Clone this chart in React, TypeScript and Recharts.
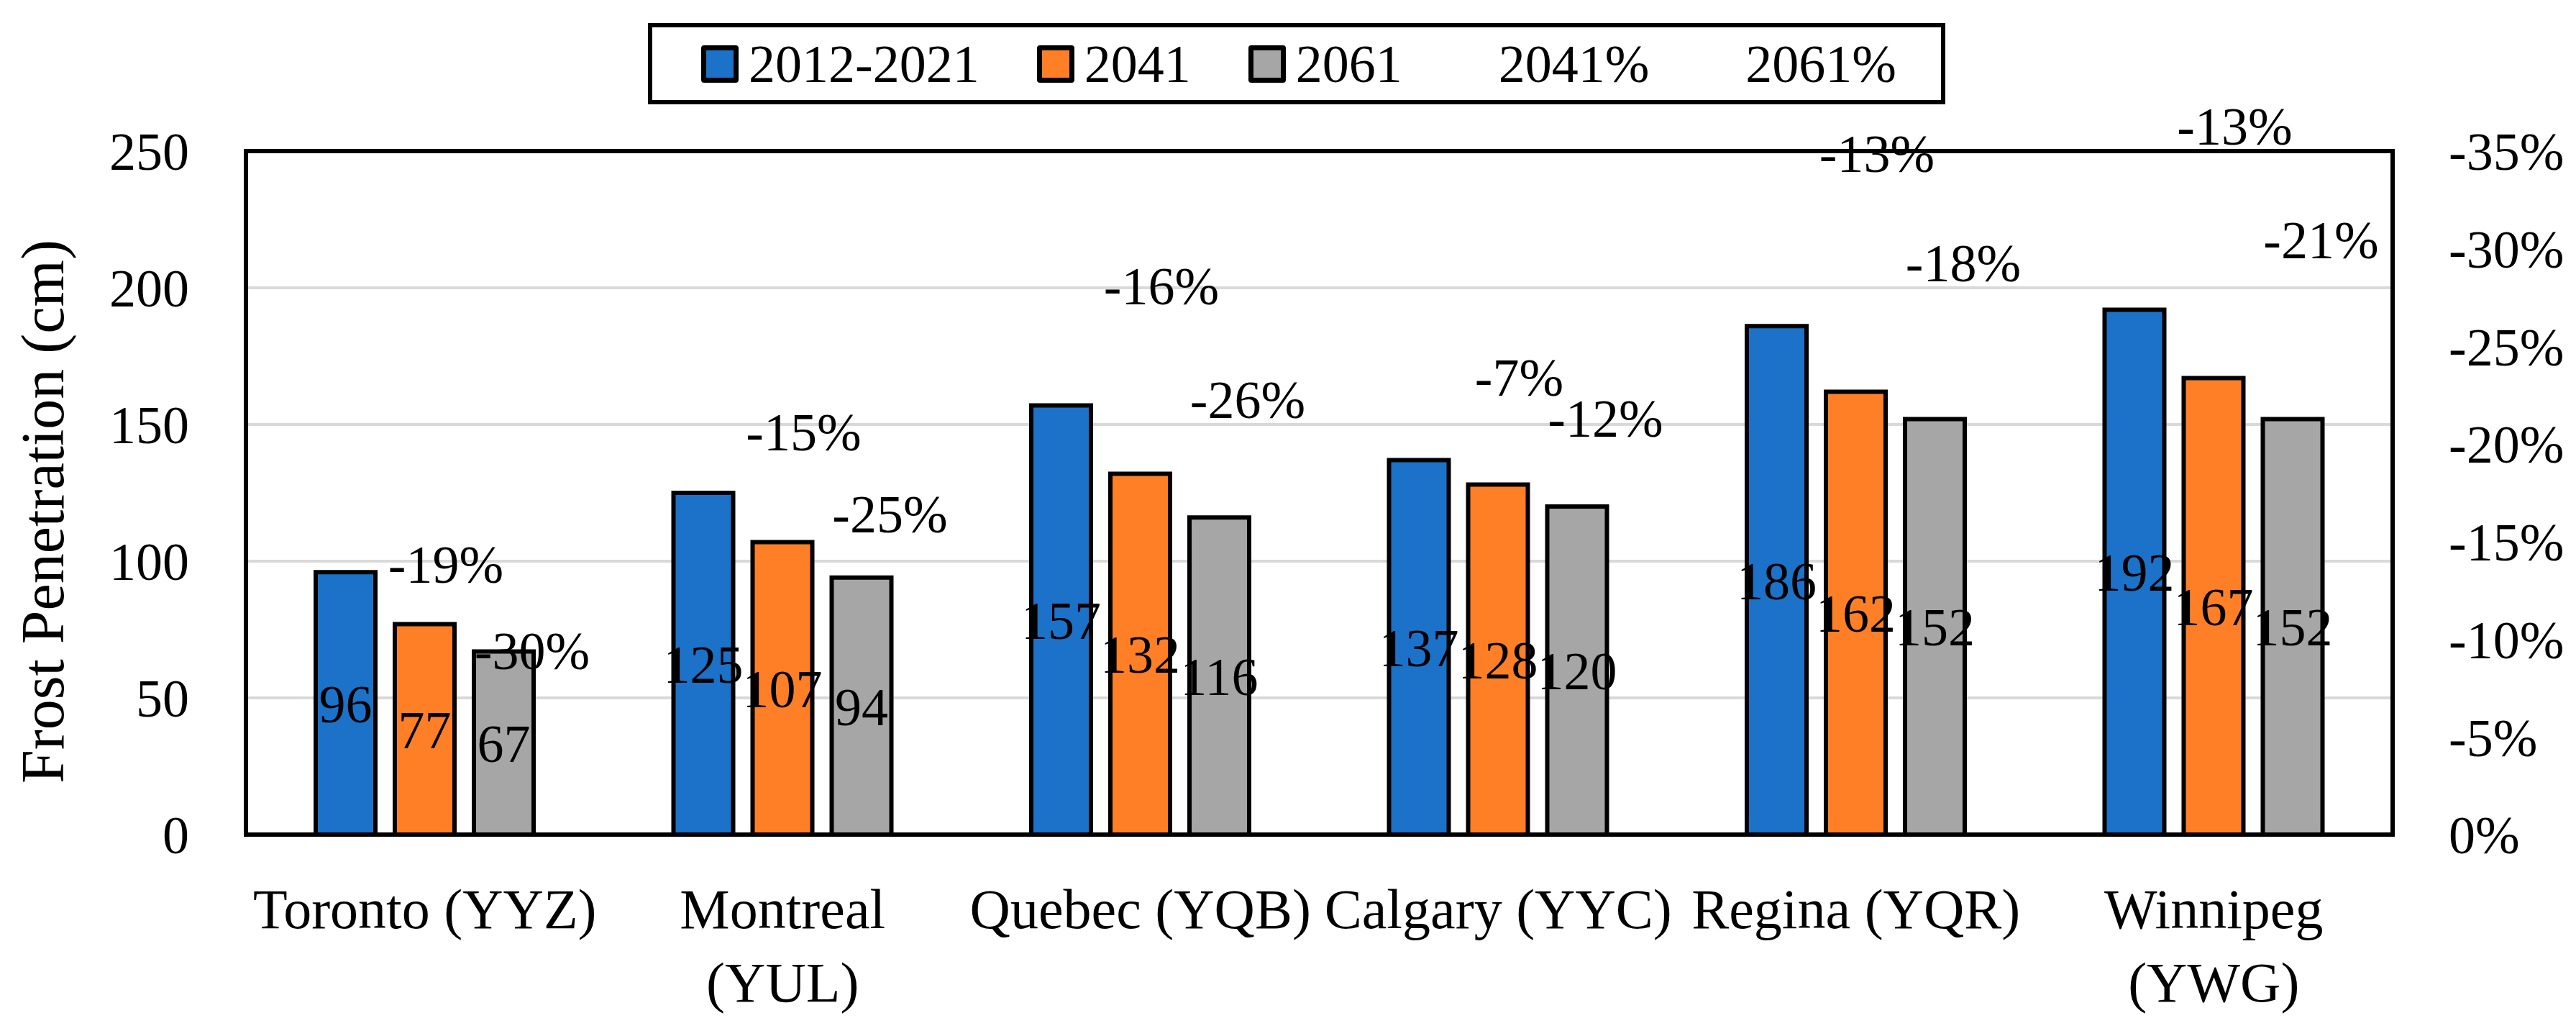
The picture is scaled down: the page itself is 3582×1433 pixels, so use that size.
import React from 'react';
import {
  ComposedChart,
  Bar,
  Line,
  XAxis,
  YAxis,
  CartesianGrid,
  ReferenceLine,
  LabelList,
} from 'recharts';

const cities = [
  'Toronto (YYZ)',
  'Montreal (YUL)',
  'Quebec (YQB)',
  'Calgary (YYC)',
  'Regina (YQR)',
  'Winnipeg (YWG)',
];
const depth2012 = [96, 125, 157, 137, 186, 192];
const depth2041 = [77, 107, 132, 128, 162, 167];
const depth2061 = [67, 94, 116, 120, 152, 152];
const change2041 = [-19, -15, -16, -7, -13, -13];
const change2061 = [-30, -25, -26, -12, -18, -21];
const depthTicks = [0, 50, 100, 150, 200, 250];
const changeTicks = [0, -5, -10, -15, -20, -25, -30, -35];

const chartData = cities.map((city, i) => ({
  city,
  base: depth2012[i],
  d41: depth2041[i],
  d61: depth2061[i],
  c41: change2041[i],
  c61: change2061[i],
}));

const BLUE = '#1B72C8';
const ORANGE = '#FF7F27';
const GRAY = '#A6A6A6';
const FONT = "'Liberation Serif', 'Times New Roman', serif";

const legendItems = [
  { name: '2012-2021', color: BLUE },
  { name: '2041', color: ORANGE },
  { name: '2061', color: GRAY },
  { name: '2041%', color: null },
  { name: '2061%', color: null },
];

// layout (px)
const W = 3566;
const H = 1417;
const TOP = 202;
const LEFT_W = 334;
const RIGHT_W = 247;
const BOTTOM_H = 265;
const PLOT_H = H - TOP - BOTTOM_H;
const BAND = (W - LEFT_W - RIGHT_W) / cities.length;
const CITY_FONT = 78;

// % labels sit above-right of the bar they refer to, higher over taller bars
const RISE = 0.67;
const DROP = 234;

function pctLabel(dx: number) {
  return (props: any) => {
    const vb = props.viewBox ?? props;
    const { x, y, width, height } = vb;
    const cx = x + width + dx;
    const cy = y - (RISE * height - DROP);
    return (
      <text
        x={cx}
        y={cy}
        textAnchor="middle"
        dominantBaseline="central"
        fontSize={74}
        fontFamily={FONT}
        fill="#000"
      >
        {`${props.value}%`}
      </text>
    );
  };
}

let measureCtx: CanvasRenderingContext2D | null = null;
function measure(s: string) {
  if (!measureCtx) measureCtx = document.createElement('canvas').getContext('2d');
  if (!measureCtx) return s.length * CITY_FONT * 0.5;
  measureCtx.font = `${CITY_FONT}px 'Liberation Serif'`;
  return measureCtx.measureText(s).width;
}

// wrap a category name into lines that fit in one band, like Excel does
function wrapLabel(label: string, maxW: number) {
  const words = label.split(' ');
  const lines: string[] = [];
  let cur = '';
  words.forEach((w) => {
    const next = cur ? `${cur} ${w}` : w;
    if (cur && measure(next) > maxW) {
      lines.push(cur);
      cur = w;
    } else {
      cur = next;
    }
  });
  if (cur) lines.push(cur);
  return lines;
}

function CityTick(props: any) {
  const { x, y, payload } = props;
  const lines = wrapLabel(String(payload.value), BAND - 4);
  return (
    <text
      x={x}
      y={y + 128}
      textAnchor="middle"
      fontSize={CITY_FONT}
      fontFamily={FONT}
      fill="#000"
    >
      {lines.map((line, i) => (
        <tspan key={i} x={x} dy={i === 0 ? 0 : 102}>
          {line}
        </tspan>
      ))}
    </text>
  );
}

function AxisTitle() {
  const x = 80;
  const y = TOP + PLOT_H / 2 + 26;
  return (
    <text
      x={x}
      y={y}
      transform={`rotate(-90 ${x} ${y})`}
      textAnchor="middle"
      fontSize={84}
      fontFamily={FONT}
      fill="#000"
    >
      Frost Penetration (cm)
    </text>
  );
}

function ChartLegend() {
  return (
    <div
      style={{
        position: 'absolute',
        left: 893,
        top: 24,
        width: 1804,
        height: 113,
        boxSizing: 'border-box',
        border: '6px solid #000',
        background: '#fff',
        display: 'flex',
        alignItems: 'center',
        paddingLeft: 68,
        fontFamily: FONT,
        fontSize: 74,
        lineHeight: 1,
        whiteSpace: 'nowrap',
      }}
    >
      {legendItems.map((item) => (
        <div
          key={item.name}
          style={{ display: 'flex', alignItems: 'center', marginRight: 80, flexShrink: 0 }}
        >
          <div
            style={{
              width: item.color ? 52 : 40,
              height: 52,
              boxSizing: 'border-box',
              border: item.color ? '7px solid #000' : 'none',
              borderRadius: 4,
              background: item.color ?? 'transparent',
              marginRight: 14,
              flexShrink: 0,
            }}
          />
          <span>{item.name}</span>
        </div>
      ))}
    </div>
  );
}

const axisLine = { stroke: '#000', strokeWidth: 6, strokeLinecap: 'square' as const };
const tickStyle = { fill: '#000', fontSize: 74, fontFamily: FONT };

export default function App() {
  return (
    <div style={{ position: 'relative', width: W, height: H, background: '#fff' }}>
      <ComposedChart
        width={W}
        height={H}
        data={chartData}
        margin={{ top: TOP, right: 0, bottom: 0, left: 0 }}
        barGap={27}
      >
        <CartesianGrid vertical={false} stroke="#D9D9D9" strokeWidth={4} />
        <Bar dataKey="base" name="2012-2021" fill={BLUE} stroke="#000" strokeWidth={6} barSize={83} isAnimationActive={false}>
          <LabelList dataKey="base" position="center" fill="#000" fontSize={74} fontFamily={FONT} />
          <LabelList dataKey="c41" content={pctLabel(98)} />
        </Bar>
        <Bar dataKey="d41" name="2041" fill={ORANGE} stroke="#000" strokeWidth={6} barSize={83} isAnimationActive={false}>
          <LabelList dataKey="d41" position="center" fill="#000" fontSize={74} fontFamily={FONT} />
          <LabelList dataKey="c61" content={pctLabel(108)} />
        </Bar>
        <Bar dataKey="d61" name="2061" fill={GRAY} stroke="#000" strokeWidth={6} barSize={83} isAnimationActive={false}>
          <LabelList dataKey="d61" position="center" fill="#000" fontSize={74} fontFamily={FONT} />
        </Bar>
        <Line yAxisId="pct" dataKey="c41" name="2041%" stroke="none" dot={false} activeDot={false} legendType="none" isAnimationActive={false} />
        <Line yAxisId="pct" dataKey="c61" name="2061%" stroke="none" dot={false} activeDot={false} legendType="none" isAnimationActive={false} />
        <ReferenceLine y={250} stroke="#000" strokeWidth={6} strokeLinecap="square" />
        <XAxis
          dataKey="city"
          height={BOTTOM_H}
          interval={0}
          tickLine={false}
          tickSize={0}
          tick={<CityTick />}
          axisLine={axisLine}
        />
        <YAxis
          width={LEFT_W}
          domain={[0, 250]}
          ticks={depthTicks}
          tickLine={false}
          tickSize={0}
          tickMargin={79}
          tick={tickStyle}
          axisLine={axisLine}
          label={() => <AxisTitle />}
        />
        <YAxis
          yAxisId="pct"
          orientation="right"
          width={RIGHT_W}
          domain={[-35, 0]}
          reversed
          ticks={changeTicks}
          tickLine={false}
          tickSize={0}
          tickMargin={78}
          tick={tickStyle}
          tickFormatter={(v: number) => `${v}%`}
          axisLine={axisLine}
        />
      </ComposedChart>
      <ChartLegend />
    </div>
  );
}
